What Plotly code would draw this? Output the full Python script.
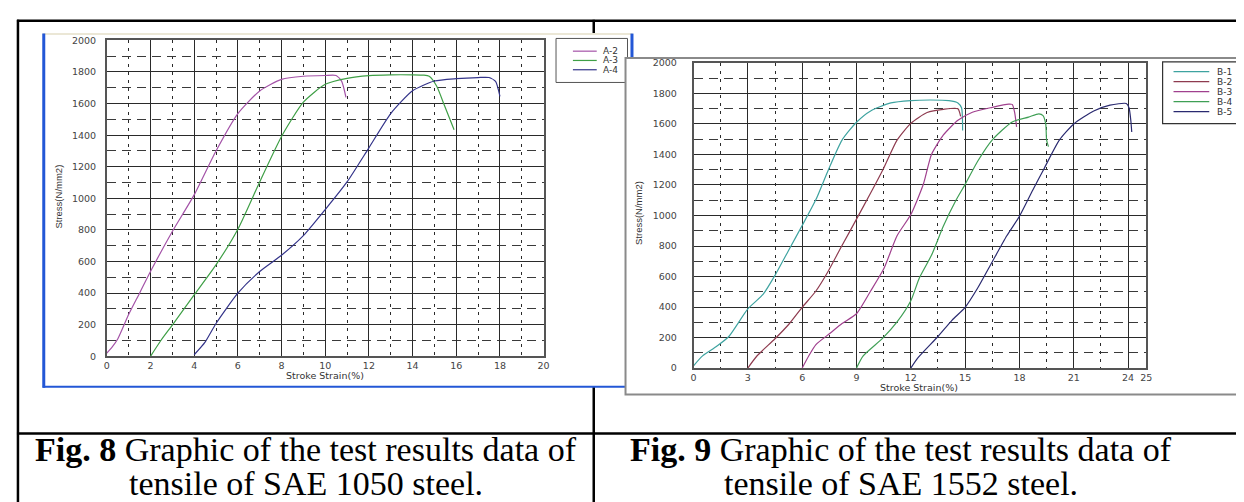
import plotly.graph_objects as go

W, H = 1244, 502

# ---------------- data (Fig. 8, SAE 1050) ----------------
a2_x = [0, 0.25, 0.5, 1.0, 1.5, 2.0, 3.0, 4.0, 5.0, 6.0, 7.0, 8.0, 9.0, 10.0, 10.5, 10.75, 10.95]
a2_y = [20, 60, 110, 265, 400, 537, 790, 1022, 1300, 1537, 1680, 1753, 1773, 1778, 1778, 1742, 1640]

a3_x = [2.0, 2.5, 3.0, 4.0, 5.0, 6.0, 7.0, 8.0, 9.0, 10.0, 11.0, 12.0, 13.0, 14.0, 14.5, 14.76, 15.1, 15.46, 15.9]
a3_y = [0, 105, 198, 389, 579, 805, 1104, 1392, 1609, 1722, 1760, 1777, 1782, 1782, 1780, 1773, 1711, 1588, 1434]

a4_x = [4.0, 4.5, 5.0, 6.0, 7.0, 8.0, 9.0, 10.0, 11.0, 12.0, 13.0, 14.0, 15.0, 16.0, 17.0, 17.5, 17.8, 18.0]
a4_y = [10, 90, 208, 400, 537, 640, 764, 929, 1104, 1320, 1537, 1681, 1743, 1758, 1765, 1765, 1740, 1645]

# ---------------- data (Fig. 9, SAE 1552) ----------------
b1_x = [0, 0.5, 1.28, 1.95, 3.0, 3.85, 4.52, 5.3, 6.0, 6.76, 7.45, 8.2, 9.0, 9.78, 10.9, 12.0, 13.1, 14.1, 14.6, 14.8, 14.86]
b1_y = [15, 80, 143, 207, 388, 484, 612, 782, 934, 1104, 1300, 1494, 1611, 1685, 1738, 1753, 1757, 1753, 1738, 1706, 1557]

b2_x = [3.0, 3.5, 4.5, 5.3, 6.0, 6.76, 7.43, 8.2, 9.0, 9.78, 10.5, 11.24, 12.0, 12.9, 13.8, 14.6, 14.75]
b2_y = [0, 79, 192, 292, 398, 505, 633, 803, 976, 1147, 1310, 1494, 1604, 1675, 1696, 1700, 1650]

b3_x = [6.0, 6.36, 6.76, 7.54, 8.2, 9.0, 9.78, 10.52, 11.24, 12.0, 12.7, 13.14, 13.8, 14.6, 15.4, 16.5, 17.4, 17.6, 17.73, 17.84]
b3_y = [0, 79, 154, 228, 292, 356, 505, 654, 867, 1006, 1208, 1400, 1528, 1624, 1677, 1709, 1730, 1728, 1677, 1581]

b4_x = [9.0, 9.36, 10.45, 11.24, 12.0, 12.47, 13.14, 13.8, 14.5, 15.0, 15.7, 16.5, 17.6, 18.5, 19.07, 19.3, 19.45, 19.5, 19.6]
b4_y = [0, 79, 196, 302, 441, 590, 739, 931, 1101, 1204, 1357, 1496, 1613, 1645, 1666, 1655, 1600, 1494, 1451]

b5_x = [12.0, 12.4, 13.5, 14.27, 15.0, 15.7, 16.5, 17.3, 18.0, 18.73, 19.35, 20.2, 21.0, 22.1, 23.0, 23.9, 24.05, 24.15, 24.2]
b5_y = [0, 68, 207, 313, 398, 526, 697, 867, 995, 1165, 1305, 1494, 1600, 1685, 1723, 1734, 1706, 1621, 1547]

left_names = ["A-2", "A-3", "A-4"]
right_names = ["B-1", "B-2", "B-3", "B-4", "B-5"]
left_colors = ["#a453a8", "#3f9f46", "#34348a"]
right_colors = ["#3ea3a0", "#8e3b4f", "#a0408e", "#3f9f55", "#2a2a70"]

left_xticks = [0, 2, 4, 6, 8, 10, 12, 14, 16, 18, 20]
left_xminor = [1, 3, 5, 7, 9, 11, 13, 15, 17, 19]
right_xticks = [0, 3, 6, 9, 12, 15, 18, 21, 24, 25]
right_xminor = [1.5, 4.5, 7.5, 10.5, 13.5, 16.5, 19.5, 22.5]
yticks = [0, 200, 400, 600, 800, 1000, 1200, 1400, 1600, 1800, 2000]
yminor = [100, 300, 500, 700, 900, 1100, 1300, 1500, 1700, 1900]

x_title = "Stroke Strain(%)"
y_title = "Stress(N/mm2)"
cap8_bold, cap8_rest, cap8_line2 = "Fig. 8", " Graphic of the test results data of", "tensile of SAE 1050 steel."
cap9_bold, cap9_rest, cap9_line2 = "Fig. 9", " Graphic of the test results data of", "tensile of SAE 1552 steel."


def fx(p):
    return p / W


def fy(p):
    return 1 - p / H


fig = go.Figure()

left_series = [(a2_x, a2_y), (a3_x, a3_y), (a4_x, a4_y)]
right_series = [(b1_x, b1_y), (b2_x, b2_y), (b3_x, b3_y), (b4_x, b4_y), (b5_x, b5_y)]

for (xs, ys), name, col in zip(left_series, left_names, left_colors):
    fig.add_trace(go.Scatter(x=xs, y=ys, name=name, mode="lines",
                             line=dict(color=col, width=1.2, shape="spline", smoothing=0.6),
                             xaxis="x", yaxis="y", showlegend=False))
for (xs, ys), name, col in zip(right_series, right_names, right_colors):
    fig.add_trace(go.Scatter(x=xs, y=ys, name=name, mode="lines",
                             line=dict(color=col, width=1.2, shape="spline", smoothing=0.6),
                             xaxis="x2", yaxis="y2", showlegend=False))

tickfont = dict(family="DejaVu Sans", size=9.5, color="#444")
grid_major = dict(showgrid=True, gridcolor="#2a2a2a", gridwidth=1, zeroline=False,
                  showline=True, mirror=True, linecolor="#555", linewidth=1.5, ticks="", tickfont=tickfont)


def xminor(vals):
    return dict(tickvals=vals, showgrid=True, gridcolor="#2a2a2a", gridwidth=1.2, griddash="3px,5px", ticks="")


def yminor_d(vals):
    return dict(tickvals=vals, showgrid=True, gridcolor="#3a3a3a", gridwidth=1, griddash="9px,6px", ticks="")


LX0, LX1, LY0, LY1 = 96.5, 536.5, 27, 350
RX0, RX1, RY0, RY1 = 687.5, 1143.5, 50, 362

fig.update_layout(
    width=W, height=H, margin=dict(l=0, r=0, t=0, b=0),
    paper_bgcolor="white", plot_bgcolor="rgba(0,0,0,0)", showlegend=False,
    xaxis=dict(domain=[fx(LX0), fx(LX1)], range=[0, 20], tickmode="array", tickvals=left_xticks,
               minor=xminor(left_xminor), anchor="y", **grid_major),
    yaxis=dict(domain=[fy(LY1), fy(LY0)], range=[0, 2000], tickmode="array", tickvals=yticks,
               minor=yminor_d(yminor), anchor="x", ticklabelstandoff=7, **grid_major),
    xaxis2=dict(domain=[fx(RX0), fx(RX1)], range=[0, 25], tickmode="array", tickvals=right_xticks,
                minor=xminor(right_xminor), anchor="y2", **grid_major),
    yaxis2=dict(domain=[fy(RY1), fy(RY0)], range=[0, 2000], tickmode="array", tickvals=yticks,
                minor=yminor_d(yminor), anchor="x2", ticklabelstandoff=13, **grid_major),
)

shapes = []


def line(x0, y0, x1, y1, color, width):
    shapes.append(dict(type="line", xref="paper", yref="paper", x0=fx(x0), y0=fy(y0), x1=fx(x1), y1=fy(y1),
                       line=dict(color=color, width=width), layer="below"))


def rect(x0, y0, x1, y1, fill, color=None, width=0):
    shapes.append(dict(type="rect", xref="paper", yref="paper", x0=fx(x0), y0=fy(y0), x1=fx(x1), y1=fy(y1),
                       fillcolor=fill, line=dict(color=color or fill, width=width), layer="below"))


# table lines
line(6, 7, W, 7, "black", 2.5)
line(7, 6, 7, H, "black", 2.5)
line(587, 6, 587, H, "black", 2.5)
line(6, 429, W, 429, "black", 2.5)

# left screenshot panel
rect(32, 20, 626, 381, "white")
line(32, 20.5, 626, 20.5, "#ebe7d6", 2)
line(33, 20, 33, 382, "#2357d6", 3)
line(32, 381, 626, 381, "#2357d6", 2)
line(625.5, 20, 625.5, 46, "#2357d6", 3)

# left legend
rect(549, 25, 621, 70, "white", "#555", 1)
leg_left_y = [38, 47.5, 57]
for yy, col in zip(leg_left_y, left_colors):
    line(566, yy, 590, yy, col, 1.2)

# right screenshot panel
rect(619, 45, 1245, 389, "white", "#8a8a8a", 2)

# right legend
rect(1160, 49, 1239, 112, "white", "#333", 1.2)
leg_right_y = [59, 69.2, 79.4, 89.6, 99.8]
for yy, col in zip(leg_right_y, right_colors):
    line(1171, yy, 1207, yy, col, 1.2)

fig.update_layout(shapes=shapes)

ann = []
lf = dict(family="DejaVu Sans", size=9, color="#333")
for yy, nm in zip(leg_left_y, left_names):
    ann.append(dict(x=fx(594), y=fy(yy), xref="paper", yref="paper", text=nm, showarrow=False,
                    xanchor="left", yanchor="middle", font=lf))
for yy, nm in zip(leg_right_y, right_names):
    ann.append(dict(x=fx(1213), y=fy(yy), xref="paper", yref="paper", text=nm, showarrow=False,
                    xanchor="left", yanchor="middle", font=lf))

tf = dict(family="DejaVu Sans", size=9.5, color="#333")
ann.append(dict(x=fx(316), y=fy(370), xref="paper", yref="paper", text=x_title, showarrow=False,
                xanchor="center", yanchor="middle", font=tf))
ann.append(dict(x=fx(915), y=fy(382), xref="paper", yref="paper", text=x_title, showarrow=False,
                xanchor="center", yanchor="middle", font=tf))
yf = dict(family="Liberation Sans Narrow, Liberation Sans", size=9.5, color="#333")
ann.append(dict(x=fx(48), y=fy(187), xref="paper", yref="paper", text=y_title, showarrow=False, textangle=-90,
                xanchor="center", yanchor="middle", font=yf))
ann.append(dict(x=fx(632), y=fy(203), xref="paper", yref="paper", text=y_title, showarrow=False, textangle=-90,
                xanchor="center", yanchor="middle", font=yf))

cf = dict(family="Liberation Serif", size=34, color="black")
for cx, b, r, l2 in [(297, cap8_bold, cap8_rest, cap8_line2), (896, cap9_bold, cap9_rest, cap9_line2)]:
    ann.append(dict(x=fx(cx), y=fy(445), xref="paper", yref="paper", text=f"<b>{b}</b>{r}",
                    showarrow=False, xanchor="center", yanchor="middle", font=cf))
    ann.append(dict(x=fx(cx), y=fy(480), xref="paper", yref="paper", text=l2,
                    showarrow=False, xanchor="center", yanchor="middle", font=cf))

fig.update_layout(annotations=ann)

fig.write_html("out.html")
